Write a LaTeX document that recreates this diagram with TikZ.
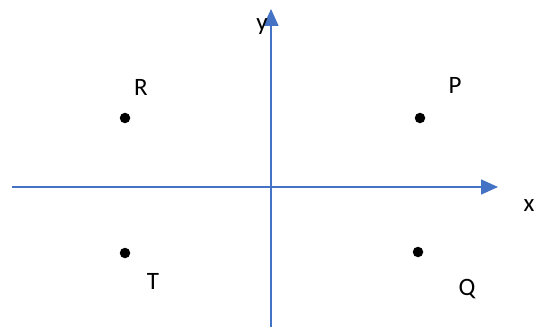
\documentclass[tikz,border=0pt]{standalone}
\usepackage{fontspec}
\setmainfont{Carlito}
\usetikzlibrary{arrows.meta}

\tikzset{
  axis/.style={line width=1.6pt,draw={rgb,255:red,68;green,114;blue,196},
    -{Triangle[length=17pt,width=15pt]}},
  dot/.style={circle,fill=black,inner sep=0pt,minimum size=10.5pt},
}

\begin{document}
\begin{tikzpicture}[x=1pt,y=-1pt,font=\fontsize{25}{30}\selectfont]
  \useasboundingbox (0,0) rectangle (536,329);

  % Axes
  \coordinate (xstart) at (12,187);
  \coordinate (xend)   at (498,187);
  \coordinate (ystart) at (271,327);
  \coordinate (yend)   at (271,9);
  \draw[axis] (xstart) -- (xend);
  \draw[axis] (ystart) -- (yend);
  \node (xlabel) at (529,206) {x};
  \node (ylabel) at (262,27)  {y};

  % Points
  \node[dot] (R) at (125,118) {};
  \node[dot] (P) at (420,118) {};
  \node[dot] (T) at (125,253) {};
  \node[dot] (Q) at (418,252) {};

  % Point labels
  \node (Rlabel) at (141,87)  {R};
  \node (Plabel) at (455,85)  {P};
  \node (Tlabel) at (153,281) {T};
  \node (Qlabel) at (467,289) {Q};
\end{tikzpicture}
\end{document}
